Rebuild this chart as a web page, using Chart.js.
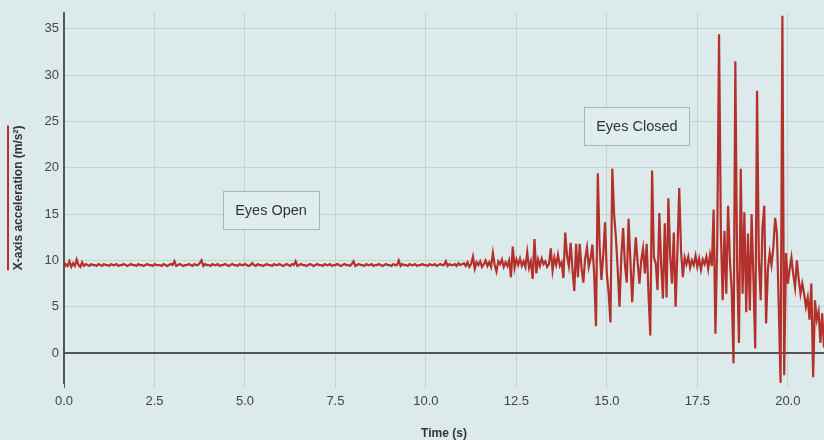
<!DOCTYPE html>
<html>
<head>
<meta charset="utf-8">
<script src="https://cdn.jsdelivr.net/npm/chart.js@4/dist/chart.umd.min.js"></script>
<style>
  html, body { margin: 0; padding: 0; background: #ddeaeb; overflow: hidden; }
  #wrap { width: 824px; height: 440px; position: relative; }
</style>
</head>
<body>
<div id="wrap"><canvas id="myChart"></canvas></div>
<script>
// accelerometer samples, 20 per second
const sampleRate = 20;
const accel = [
  9.2, 9.6, 9.4, 9.9, 9.3, 9.7, 9.4, 10.1, 9.5, 9.3, 9.8, 9.4, 9.6, 9.5, 9.4, 9.6, 9.5, 9.5, 9.4, 9.6,
  9.5, 9.4, 9.6, 9.5, 9.5, 9.4, 9.6, 9.5, 9.5, 9.6, 9.4, 9.5, 9.5, 9.6, 9.5, 9.4, 9.5, 9.6, 9.5, 9.5,
  9.4, 9.6, 9.5, 9.5, 9.4, 9.5, 9.6, 9.5, 9.5, 9.4, 9.6, 9.5, 9.5, 9.5, 9.4, 9.6, 9.5, 9.4, 9.5, 9.6,
  9.5, 9.9, 9.4, 9.5, 9.6, 9.5, 9.4, 9.5, 9.5, 9.6, 9.5, 9.4, 9.6, 9.5, 9.5, 9.7, 10.0, 9.4, 9.6, 9.5,
  9.5, 9.4, 9.6, 9.5, 9.5, 9.6, 9.4, 9.5, 9.5, 9.6, 9.5, 9.4, 9.5, 9.6, 9.5, 9.5, 9.4, 9.6, 9.5, 9.5,
  9.6, 9.5, 9.4, 9.5, 9.7, 9.5, 9.4, 9.6, 9.5, 9.5, 9.4, 9.5, 9.6, 9.5, 9.5, 9.4, 9.6, 9.5, 9.5, 9.6,
  9.5, 9.4, 9.5, 9.6, 9.5, 9.4, 9.6, 9.5, 9.9, 9.4, 9.5, 9.6, 9.5, 9.5, 9.4, 9.5, 9.6, 9.5, 9.4, 9.5,
  9.6, 9.5, 9.5, 9.4, 9.6, 9.5, 9.5, 9.6, 9.4, 9.5, 9.5, 9.6, 9.5, 9.4, 9.5, 9.6, 9.5, 9.5, 9.4, 9.6,
  9.9, 9.4, 9.5, 9.6, 9.5, 9.5, 9.4, 9.6, 9.5, 9.5, 9.6, 9.4, 9.5, 9.5, 9.6, 9.5, 9.4, 9.5, 9.6, 9.5,
  9.5, 9.4, 9.6, 9.5, 9.5, 10.0, 9.4, 9.6, 9.5, 9.5, 9.4, 9.6, 9.5, 9.5, 9.6, 9.4, 9.5, 9.5, 9.6, 9.5,
  9.5, 9.4, 9.6, 9.5, 9.5, 9.6, 9.4, 9.5, 9.6, 9.5, 9.5, 9.9, 9.4, 9.6, 9.5, 9.5, 9.6, 9.4, 9.7, 9.5, 9.6,
  9.7, 9.4, 9.8, 9.3, 9.6, 10.4, 9.1, 9.8, 9.5, 9.9, 9.3, 9.6, 10.0, 9.4, 9.8, 9.3, 10.8, 9.5, 8.8, 9.9,
  9.6, 10.1, 9.3, 9.8, 9.4, 10.0, 8.2, 11.5, 9.2, 10.1, 9.5, 10.2, 9.4, 9.9, 9.3, 10.9, 9.2, 9.9, 8.0, 12.3,
  8.6, 10.1, 9.4, 10.2, 9.6, 9.9, 9.3, 9.6, 11.3, 8.9, 10.3, 9.5, 10.6, 9.4, 9.8, 8.1, 13.0, 10.5, 9.4, 11.9,
  9.0, 6.7, 11.8, 8.2, 11.8, 9.2, 7.6, 10.2, 11.4, 9.3, 10.2, 11.7, 8.5, 2.9, 19.4, 11.5, 7.9, 10.6, 14.1, 8.5,
  6.5, 3.3, 19.9, 15.0, 12.5, 9.0, 5.0, 10.5, 13.5, 9.5, 7.6, 14.5, 10.0, 5.5, 9.5, 12.5, 9.8, 7.5, 10.0, 11.3,
  8.6, 11.8, 6.5, 1.9, 19.7, 10.3, 9.7, 6.8, 15.1, 9.5, 5.9, 14.0, 6.0, 16.7, 10.5, 7.5, 13.0, 5.0, 11.0, 17.8,
  11.0, 8.2, 10.3, 9.6, 10.4, 9.2, 10.0, 9.5, 10.5, 9.3, 10.2, 9.0, 10.1, 9.6, 10.4, 9.1, 10.6, 9.4, 15.5, 2.1,
  12.0, 34.4, 13.2, 5.7, 13.2, 6.4, 15.9, 10.0, 6.8, -1.1, 31.5, 9.3, 1.1, 19.9, 6.4, 15.2, 4.4, 12.9, 4.6, 15.0,
  8.0, 0.5, 28.3, 10.0, 5.7, 13.6, 15.9, 3.2, 9.0, 10.8, 9.5, 11.4, 14.6, 12.9, 5.0, -3.2, 36.4, -2.4, 10.8, 7.5,
  9.0, 10.3, 8.5, 7.1, 10.0, 8.0, 6.4, 7.5, 6.4, 5.0, 6.0, 3.6, 7.5, -2.6, 5.7, 3.6, 4.5, 1.1, 4.3, 0.6
];

// annotation boxes (time, value)
const notes = ["Eyes Open", "Eyes Closed"];
const noteTime = [5.72, 15.83];
const noteValue = [15.4, 24.55];

const xTitle = "Time (s)";
const yTitle = "X-axis acceleration (m/s\u00b2)";

const bg = "#ddeaeb";
const red = "#b3302b";
const gridCol = "#c6d1d2";
const axisCol = "#555555";
const fontFam = "'Helvetica Neue', Helvetica, Arial, 'Liberation Sans', sans-serif";

Chart.defaults.font.family = fontFam;

const points = accel.map((v, i) => ({ x: i / sampleRate, y: v }));

const bgPlugin = {
  id: "bg",
  beforeDraw(chart) {
    const ctx = chart.ctx;
    ctx.save();
    ctx.fillStyle = bg;
    ctx.fillRect(0, 0, chart.width, chart.height);
    ctx.restore();
  },
};

const notesPlugin = {
  id: "notes",
  afterDatasetsDraw(chart) {
    const ctx = chart.ctx;
    const xs = chart.scales.x;
    const ys = chart.scales.y;
    ctx.save();
    ctx.font = "14.5px " + fontFam;
    notes.forEach((txt, i) => {
      const cx = xs.getPixelForValue(noteTime[i]);
      const cy = ys.getPixelForValue(noteValue[i]);
      const w = ctx.measureText(txt).width + 24;
      const h = 38;
      ctx.fillStyle = "#e0edee";
      ctx.fillRect(cx - w / 2, cy - h / 2, w, h);
      ctx.strokeStyle = "#a9b5b6";
      ctx.lineWidth = 1;
      ctx.strokeRect(Math.round(cx - w / 2) + 0.5, Math.round(cy - h / 2) + 0.5, Math.round(w), h);
      ctx.fillStyle = "#333";
      ctx.textAlign = "center";
      ctx.textBaseline = "middle";
      ctx.fillText(txt, cx, cy + 1);
    });

    // red marker beside the y title
    ctx.font = "bold 12px " + fontFam;
    const len = ctx.measureText(yTitle).width;
    const mid = (chart.chartArea.top + chart.chartArea.bottom) / 2;
    ctx.strokeStyle = red;
    ctx.lineWidth = 2;
    ctx.beginPath();
    ctx.moveTo(8, mid - len / 2);
    ctx.lineTo(8, mid + len / 2);
    ctx.stroke();
    ctx.restore();
  },
};

new Chart(document.getElementById("myChart"), {
  type: "line",
  data: {
    datasets: [
      {
        label: "X-axis acceleration",
        data: points,
        borderColor: red,
        borderWidth: 2.2,
        pointRadius: 0,
        tension: 0,
        fill: false,
      },
    ],
  },
  options: {
    responsive: true,
    maintainAspectRatio: false,
    animation: false,
    layout: { padding: { top: 12, left: 0, right: 0, bottom: 0 } },
    plugins: {
      legend: { display: false },
      tooltip: { enabled: false },
    },
    scales: {
      x: {
        type: "linear",
        min: 0,
        max: 21,
        afterFit: (s) => { s.height = 57; },
        border: { display: false },
        grid: {
          color: gridCol,
          drawTicks: true,
          tickLength: 5,
          tickColor: (c) => (c.tick && c.tick.value === 0 ? axisCol : gridCol),
        },
        ticks: {
          stepSize: 2.5,
          includeBounds: false,
          padding: 6,
          color: "#444",
          font: { size: 13 },
          maxRotation: 0,
          callback: (v) => Number(v).toFixed(1),
        },
        title: {
          display: true,
          text: xTitle,
          color: "#333",
          font: { size: 12, weight: "bold", lineHeight: 1 },
          padding: { top: 0, bottom: 0 },
        },
      },
      y: {
        min: -3.23,
        max: 36.72,
        afterFit: (s) => { s.width = 64; },
        border: { display: true, color: axisCol, width: 2 },
        grid: {
          drawTicks: false,
          color: (c) => (c.tick && c.tick.value === 0 ? axisCol : gridCol),
          lineWidth: (c) => (c.tick && c.tick.value === 0 ? 2 : 1),
        },
        ticks: {
          stepSize: 5,
          includeBounds: false,
          padding: 5,
          color: "#444",
          font: { size: 13 },
        },
        title: {
          display: true,
          text: yTitle,
          color: "#333",
          font: { size: 12, weight: "bold" },
          padding: { top: 11, bottom: 4 },
        },
      },
    },
  },
  plugins: [bgPlugin, notesPlugin],
});
</script>
</body>
</html>
